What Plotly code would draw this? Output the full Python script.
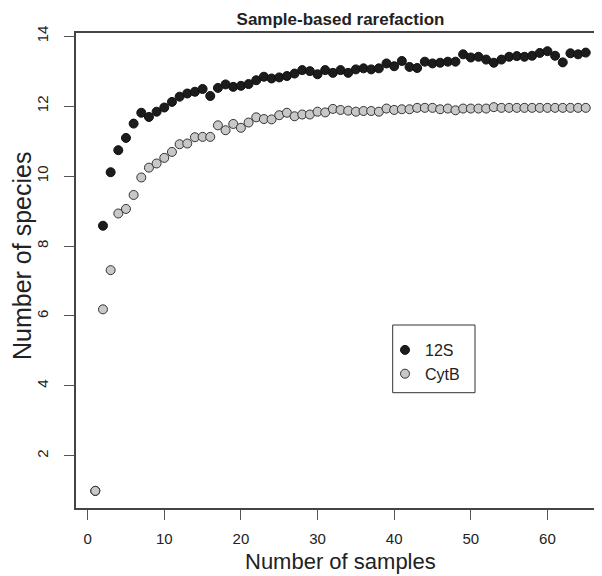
import plotly.graph_objects as go

samples = list(range(1, 66))

species_12s = [
    1.0, 8.58, 10.11, 10.74, 11.09, 11.50, 11.81, 11.69, 11.84, 11.96,
    12.12, 12.27, 12.36, 12.41, 12.49, 12.29, 12.52, 12.62, 12.55, 12.58,
    12.63, 12.74, 12.84, 12.79, 12.82, 12.86, 12.93, 13.03, 13.00, 12.91,
    13.03, 12.95, 13.03, 12.95, 13.05, 13.08, 13.05, 13.08, 13.22, 13.14,
    13.29, 13.12, 13.09, 13.27, 13.22, 13.24, 13.27, 13.27, 13.48, 13.39,
    13.41, 13.33, 13.24, 13.33, 13.41, 13.43, 13.41, 13.44, 13.52, 13.57,
    13.44, 13.25, 13.51, 13.48, 13.53,
]

species_cytb = [
    1.0, 6.19, 7.31, 8.93, 9.06, 9.46, 9.96, 10.24, 10.36, 10.52,
    10.69, 10.91, 10.93, 11.11, 11.12, 11.12, 11.45, 11.31, 11.49, 11.38,
    11.53, 11.68, 11.63, 11.62, 11.74, 11.81, 11.71, 11.76, 11.76, 11.84,
    11.82, 11.92, 11.89, 11.87, 11.84, 11.86, 11.86, 11.84, 11.93, 11.89,
    11.91, 11.91, 11.95, 11.95, 11.95, 11.91, 11.93, 11.88, 11.93, 11.93,
    11.93, 11.93, 11.97, 11.95, 11.95, 11.95, 11.95, 11.95, 11.95, 11.95,
    11.95, 11.95, 11.95, 11.95, 11.95,
]

x_ticks = [0, 10, 20, 30, 40, 50, 60]
y_ticks = [2, 4, 6, 8, 10, 12, 14]

FONT = "Liberation Sans, Arial, sans-serif"
TXT = "#222222"

# the page body has an 8px default margin; lay out in page pixels
OFF = 8
PAGE_W, PAGE_H = 602, 576
W, H = PAGE_W - OFF, PAGE_H - OFF
plot_left, plot_top, plot_bottom = 76, 33, 508
L = plot_left - OFF
T = plot_top - OFF
B = PAGE_H - plot_bottom
R = 0
PW, PH = W - L - R, H - T - B


def px_x(p):
    return (p - plot_left) / PW


def px_y(p):
    return (plot_bottom - p) / PH


fig = go.Figure()
fig.add_trace(go.Scatter(
    x=samples, y=species_12s, mode="markers", name="12S",
    marker=dict(size=9, color="#1c1c1c", line=dict(color="#111111", width=1)),
))
fig.add_trace(go.Scatter(
    x=samples, y=species_cytb, mode="markers", name="CytB",
    marker=dict(size=9, color="#c8c8c8", line=dict(color="#333333", width=1)),
))

fig.update_layout(
    width=W, height=H,
    margin=dict(l=L, r=R, t=T, b=B, autoexpand=False),
    paper_bgcolor="white", plot_bgcolor="white",
    font=dict(family=FONT, color=TXT),
    title=dict(
        text="<b>Sample-based rarefaction</b>",
        x=(340.5 - OFF) / W, xanchor="center",
        y=1 - (19 - OFF) / H, yanchor="middle",
        font=dict(size=17, color=TXT, family=FONT),
    ),
    showlegend=True,
    legend=dict(
        x=px_x(385), xanchor="left",
        y=px_y(333), yanchor="top",
        borderwidth=0,
        bgcolor="rgba(0,0,0,0)",
        font=dict(size=16, color=TXT, family=FONT),
    ),
    shapes=[dict(
        type="rect", xref="paper", yref="paper",
        x0=px_x(392.7), x1=px_x(475), y0=px_y(392.7), y1=px_y(325),
        line=dict(color="#333333", width=1), fillcolor="rgba(0,0,0,0)",
        layer="below",
    )],
    annotations=[
        dict(text="Number of samples", xref="paper", yref="paper",
             x=px_x(340.5), y=px_y(561), xanchor="center", yanchor="middle",
             showarrow=False, font=dict(size=22, color=TXT, family=FONT)),
        dict(text="Number of species", xref="paper", yref="paper",
             x=px_x(22), y=px_y(256), xanchor="center", yanchor="middle",
             textangle=-90,
             showarrow=False, font=dict(size=25, color=TXT, family=FONT)),
    ],
)

fig.update_xaxes(
    range=[-1.52, 67.12], automargin=False,
    tickmode="array", tickvals=x_ticks,
    ticks="outside", ticklen=10, tickcolor="#555555", tickwidth=1,
    showline=True, linecolor="#444444", linewidth=1.5, mirror=True,
    showgrid=False, zeroline=False,
    tickfont=dict(size=15, color=TXT),
    ticklabelstandoff=6,
)

fig.update_yaxes(
    range=[0.51, 14.09], automargin=False,
    tickmode="array", tickvals=y_ticks,
    ticks="outside", ticklen=10, tickcolor="#555555", tickwidth=1,
    showline=True, linecolor="#444444", linewidth=1.5, mirror=False,
    showgrid=False, zeroline=False,
    tickangle=-90,
    tickfont=dict(size=15, color=TXT),
    ticklabelstandoff=10,
)

fig.write_html("out.html")
